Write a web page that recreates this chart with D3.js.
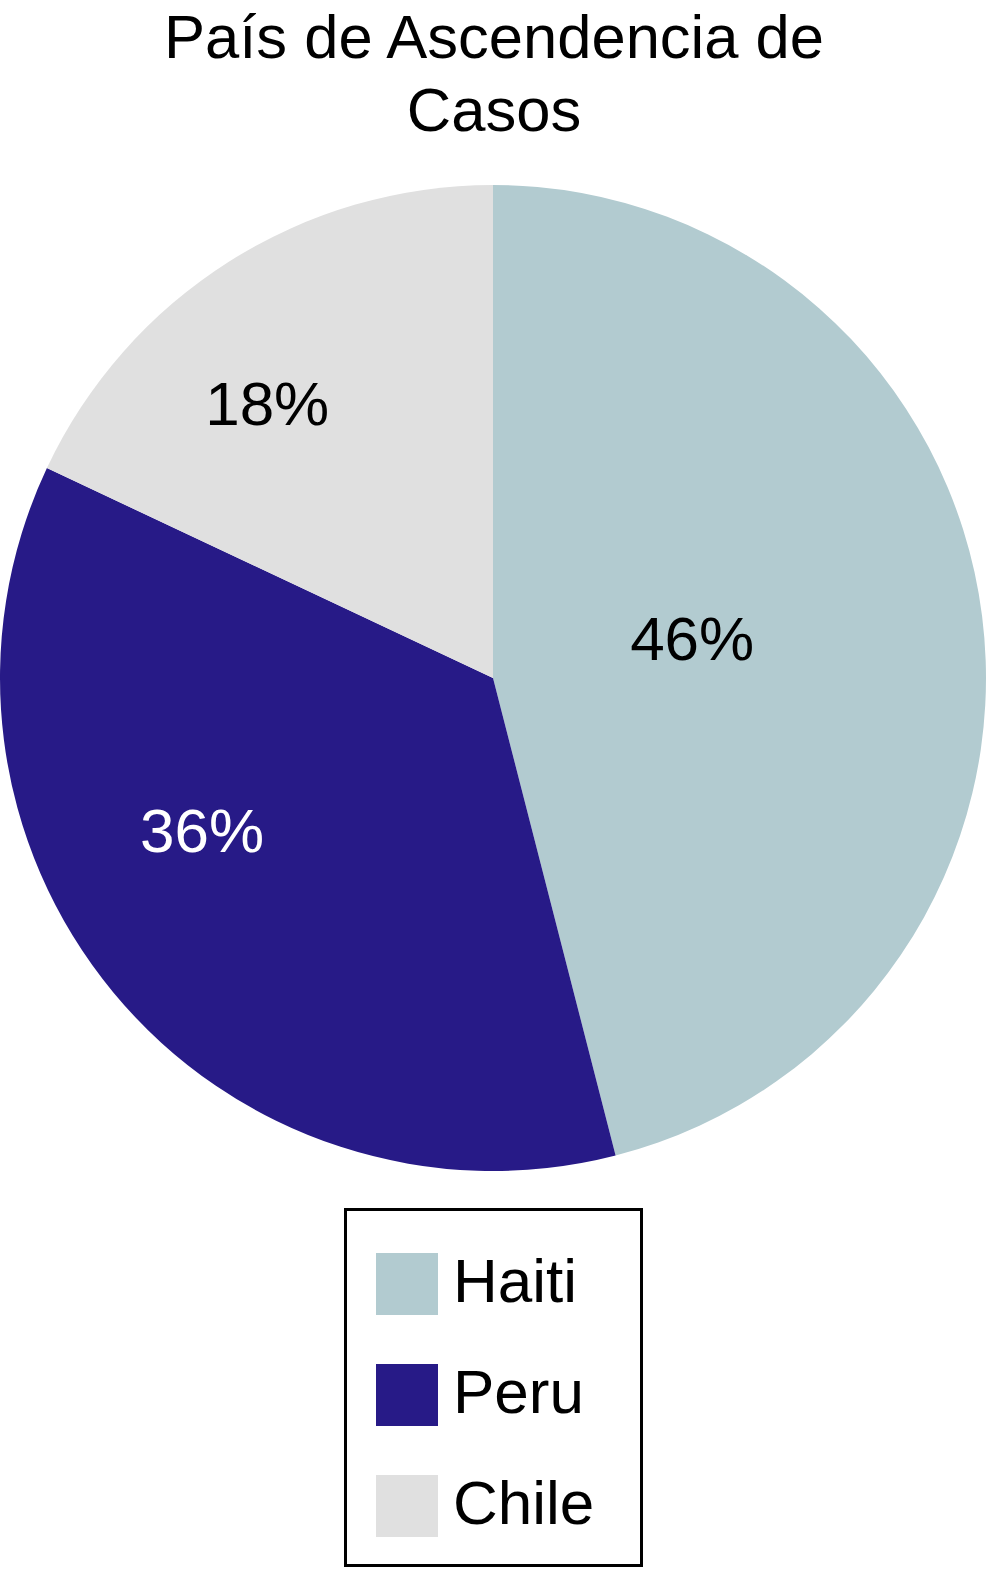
<!DOCTYPE html>
<html>
<head>
<meta charset="utf-8">
<script src="https://cdn.jsdelivr.net/npm/d3@7"></script>
<style>
  html, body { margin: 0; padding: 0; background: #fff; }
  svg { display: block; }
  text { font-family: "Liberation Sans", Arial, Helvetica, sans-serif; }
</style>
</head>
<body>
<svg id="chart" width="988" height="1570"></svg>
<script>
const titleLines = ["País de Ascendencia de", "Casos"];
const categories = ["Haiti", "Peru", "Chile"];
const values = [46, 36, 18];
const labels = ["46%", "36%", "18%"];
const colors = ["#b2cbd0", "#271a87", "#e0e0e0"];
const labelColors = ["#000000", "#ffffff", "#000000"];
// label placement (fraction of radius, x/y from pie centre), as in the original "best fit" layout
const labelPos = [[0.404, -0.037], [-0.590, 0.353], [-0.458, -0.513]];

const svg = d3.select("#chart");
const W = 988;
const cx = 493, cy = 678, R = 493;

// Title
svg.append("g").selectAll("text").data(titleLines).join("text")
  .attr("x", W / 2).attr("y", (d, i) => 58 + i * 73)
  .attr("text-anchor", "middle")
  .attr("font-size", 61.5)
  .attr("fill", "#000")
  .text(d => d);

const data = categories.map((c, i) => ({ name: c, value: values[i], label: labels[i], color: colors[i], lc: labelColors[i], pos: labelPos[i] }));
const pie = d3.pie().value(d => d.value).sort(null);
const arcs = pie(data);
const arc = d3.arc().innerRadius(0).outerRadius(R);

const g = svg.append("g").attr("transform", `translate(${cx},${cy})`);
g.selectAll("path").data(arcs).join("path")
  .attr("d", arc)
  .attr("fill", d => d.data.color);

g.selectAll("text").data(arcs).join("text")
  .attr("transform", d => `translate(${d.data.pos[0] * R},${d.data.pos[1] * R})`)
  .attr("text-anchor", "middle")
  .attr("font-size", 62)
  .attr("fill", d => d.data.lc)
  .text(d => d.data.label);

// Legend
const lg = svg.append("g");
lg.append("rect")
  .attr("x", 345.5).attr("y", 1209.5).attr("width", 296).attr("height", 356)
  .attr("fill", "#fff").attr("stroke", "#000").attr("stroke-width", 3);
const items = lg.selectAll("g.item").data(data).join("g")
  .attr("class", "item")
  .attr("transform", (d, i) => `translate(376,${1253 + i * 111})`);
items.append("rect").attr("width", 62).attr("height", 62).attr("fill", d => d.color);
items.append("text").attr("x", 77).attr("y", 49)
  .attr("font-size", 62).attr("fill", "#000").text(d => d.name);
</script>
</body>
</html>
